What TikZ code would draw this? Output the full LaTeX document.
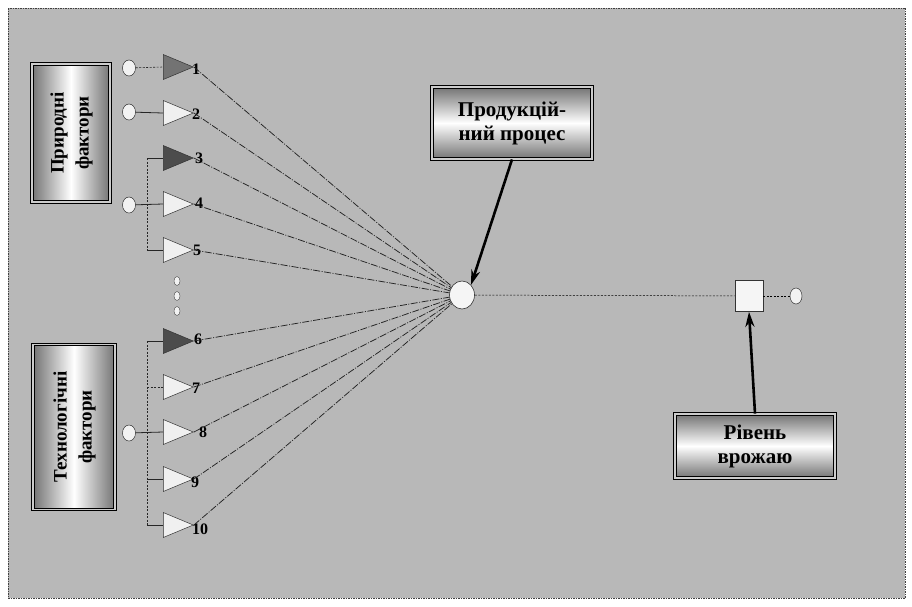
\documentclass[tikz,border=0pt]{standalone}
\usepackage{fontspec}
\setmainfont{Liberation Serif}
\usetikzlibrary{shapes.geometric,arrows.meta,calc}
\definecolor{panel}{RGB}{184,184,184}
\definecolor{boxgray}{RGB}{115,115,115}
\definecolor{spoke}{RGB}{35,35,35}
\newcommand{\uptext}[1]{\rotatebox{90}{\begin{tabular}{@{}c@{}}#1\end{tabular}}}
\tikzset{
  framed/.style={draw=black, line width=0.9pt, double=gray!40, double distance=1.6pt,
    inner sep=0pt},
  titlebox/.style={framed, top color=boxgray, bottom color=boxgray, middle color=white,
    align=center, font=\fontsize{21}{24}\selectfont\bfseries},
  sidebox/.style={framed, left color=boxgray, right color=boxgray, middle color=white,
    font=\fontsize{19}{25}\selectfont\bfseries},
  source/.style={ellipse, draw=black!80, line width=0.5pt, fill=gray!10,
    minimum width=13pt, minimum height=16pt, inner sep=0pt},
  gaindot/.style={ellipse, draw=black!70, line width=0.4pt, fill=gray!10,
    minimum width=6pt, minimum height=9pt, inner sep=0pt},
  factor/.style={isosceles triangle, isosceles triangle stretches, draw=black!80,
    line width=0.5pt, minimum width=25pt, minimum height=30pt, inner sep=0pt,
    anchor=lower side},
  lightf/.style={factor, fill=gray!12},
  midf/.style={factor, fill=black!55},
  darkf/.style={factor, fill=black!70},
  num/.style={font=\fontsize{16}{16}\selectfont\bfseries, inner sep=0pt},
  spokeline/.style={draw=spoke, line width=0.75pt, dash pattern=on 7pt off 1.5pt on 1pt off 1.5pt},
  wire/.style={draw=black!85, line width=0.8pt},
  dashwire/.style={draw=black!85, line width=0.6pt, dash pattern=on 2pt off 1.5pt},
  fineline/.style={draw=black, line width=0.5pt, dash pattern=on 2pt off 1.5pt},
  pointer/.style={draw=black, line width=2.6pt, -{Stealth[length=15pt,width=9pt]}}
}
\begin{document}
\begin{tikzpicture}[x=1pt,y=-1pt]
  \useasboundingbox (0,0) rectangle (912,606);
  % panel
  \fill[white] (0,0) rectangle (912,606);
  \filldraw[fill=panel, draw=black!75, line width=0.6pt, dash pattern=on 1.5pt off 1pt]
    (8,8) rectangle (905,598);

  % group titles (text set bottom to top)
  \node[sidebox, minimum width=78pt, minimum height=138pt] (nat) at (71,133)
    {\uptext{Природні\\фактори}};
  \node[sidebox, minimum width=82pt, minimum height=165pt] (tech) at (74,427)
    {\uptext{Технологічні\\фактори}};

  % inputs
  \node[source] (c1) at (129,68) {};
  \node[source] (c2) at (129,112) {};
  \node[source] (c4) at (129,205) {};
  \node[source] (c8) at (129,433) {};

  % factors
  \node[midf]   (t1)  at (163,67)  {};
  \node[lightf] (t2)  at (163,113) {};
  \node[darkf]  (t3)  at (163,158) {};
  \node[lightf] (t4)  at (163,204) {};
  \node[lightf] (t5)  at (163,250) {};
  \node[darkf]  (t6)  at (163,341) {};
  \node[lightf] (t7)  at (163,387) {};
  \node[lightf] (t8)  at (163,432) {};
  \node[lightf] (t9)  at (163,479) {};
  \node[lightf] (t10) at (163,525) {};

  \node[gaindot] (d1) at (177,281) {};
  \node[gaindot] (d2) at (177,296) {};
  \node[gaindot] (d3) at (177,311) {};

  % labels
  \node[num] (l1)  at (196,69)  {1};
  \node[num] (l2)  at (196,114) {2};
  \node[num] (l3)  at (199,158) {3};
  \node[num] (l4)  at (199,203) {4};
  \node[num] (l5)  at (197,250) {5};
  \node[num] (l6)  at (198,339) {6};
  \node[num] (l7)  at (196,388) {7};
  \node[num] (l8)  at (203,432) {8};
  \node[num] (l9)  at (195,482) {9};
  \node[num] (l10) at (200,529) {10};

  % process, output, result
  \node[ellipse, draw=black!80, line width=0.6pt, fill=gray!8, minimum width=25pt,
        minimum height=28pt, inner sep=0pt] (hub) at (462,295) {};
  \node[draw=black!80, line width=0.6pt, fill=gray!8, minimum width=28pt,
        minimum height=31pt, inner sep=0pt] (sq) at (749,296) {};
  \node[source, minimum width=12pt] (out) at (796,296) {};

  \node[titlebox, minimum width=160pt, minimum height=72pt] (prod) at (512,123) {Продукцій-\\ний процес};
  \node[titlebox, minimum width=160pt, minimum height=64pt] (yield) at (755,446) {Рівень\\врожаю};

  % input wiring
  \coordinate (bx) at (147,0);
  \draw[dashwire] (c1) -- (t1.lower side);
  \draw[wire] (c2) -- (t2.lower side);
  \draw[wire] (c4) -- (t4.lower side);
  \draw[dashwire] (t3.lower side -| bx) -- (t5.lower side -| bx);
  \draw[wire] (t3.lower side -| bx) -- (t3.lower side);
  \draw[wire] (t5.lower side -| bx) -- (t5.lower side);
  \draw[wire] (c8) -- (t8.lower side);
  \draw[dashwire] (t6.lower side -| bx) -- (t10.lower side -| bx);
  \draw[wire] (t6.lower side -| bx) -- (t6.lower side);
  \draw[dashwire] (t7.lower side -| bx) -- (t7.lower side);
  \draw[wire] (t9.lower side -| bx) -- (t9.lower side);
  \draw[wire] (t10.lower side -| bx) -- (t10.lower side);

  % spokes into the process
  \foreach \i in {1,...,10} {
    \draw[spokeline] (t\i.apex) -- (hub);
  }

  % process to output
  \draw[fineline] (hub) -- (sq);
  \draw[fineline] (sq) -- (out);

  % pointers
  \draw[pointer] (prod.south) -- (hub.north east);
  \draw[pointer] (yield.north) -- (sq.south);
\end{tikzpicture}
\end{document}
